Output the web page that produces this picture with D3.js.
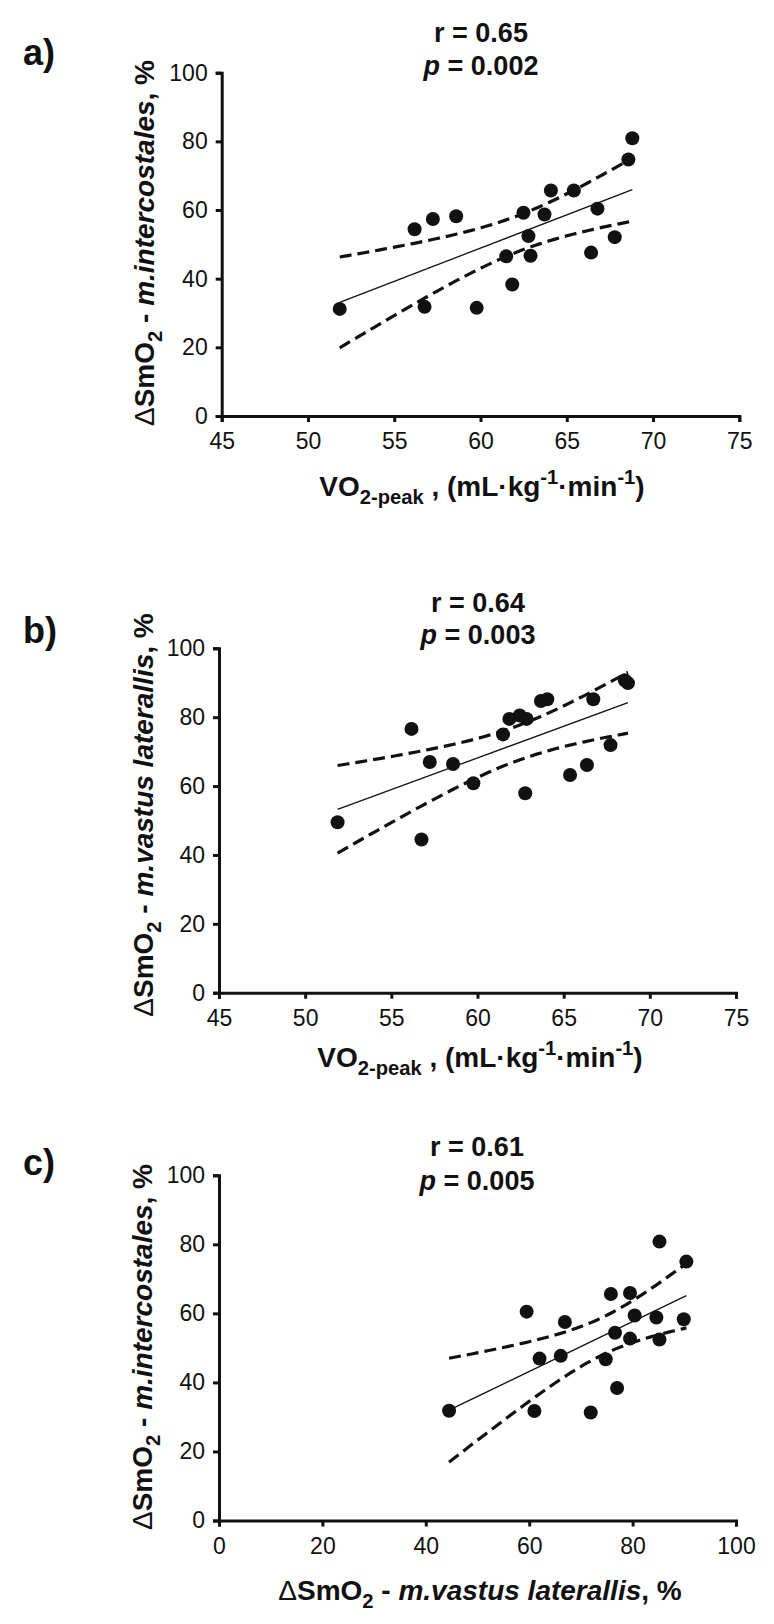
<!DOCTYPE html>
<html>
<head>
<meta charset="utf-8">
<script src="https://cdn.jsdelivr.net/npm/d3@7"></script>
<style>
  html, body { margin: 0; padding: 0; background: #fff; }
  svg { display: block; }
  text { font-family: "Liberation Sans", Arial, Helvetica, sans-serif; fill: #111; }
</style>
</head>
<body>
<svg id="chart" width="774" height="1624"></svg>
<script>
// ---------- data ----------
// Panel a: VO2-peak vs ΔSmO2 m.intercostales
const vo2A = [51.84, 56.18, 56.76, 57.24, 58.59, 59.78, 61.49, 61.84, 62.49, 62.78, 62.90, 63.71, 64.08, 65.41, 66.41, 66.78, 67.78, 68.57, 68.80];
const icA  = [31.2, 54.4, 31.8, 57.4, 58.2, 31.5, 46.5, 38.3, 59.2, 52.4, 46.7, 58.7, 65.7, 65.7, 47.6, 60.4, 52.1, 74.7, 80.9];
// Panel b: VO2-peak vs ΔSmO2 m.vastus laterallis
const vo2B = [51.88, 56.17, 56.75, 57.23, 58.58, 59.76, 61.48, 61.85, 62.45, 62.85, 62.77, 63.68, 64.05, 65.37, 66.35, 66.72, 67.72, 68.55, 68.73];
const vlB  = [49.5, 76.6, 44.5, 67.0, 66.4, 60.8, 75.0, 79.5, 80.5, 79.5, 57.9, 84.7, 85.2, 63.2, 66.1, 85.2, 71.9, 90.7, 89.9];
// Panel c: ΔSmO2 vastus laterallis vs ΔSmO2 intercostales
const vlC  = [44.5, 59.5, 61.0, 62.0, 66.1, 66.9, 71.9, 74.8, 75.8, 76.6, 77.0, 79.5, 79.5, 80.4, 84.6, 85.2, 85.2, 89.9, 90.4];
const icC  = [31.8, 60.5, 31.7, 46.9, 47.7, 57.5, 31.3, 46.7, 65.6, 54.4, 38.4, 65.9, 52.7, 59.4, 58.8, 52.4, 80.8, 58.3, 75.0];

const vo2Ticks = [45, 50, 55, 60, 65, 70, 75];
const pctTicks = [0, 20, 40, 60, 80, 100];
const panelLetters = ["a)", "b)", "c)"];
const rLabels = ["r = 0.65", "r = 0.64", "r = 0.61"];
const pLabels = [" = 0.002", " = 0.003", " = 0.005"];
const tCrit = 2.110; // t(0.975, df = 17)

// ---------- helpers ----------
function regression(xs, ys) {
  const n = xs.length;
  const mx = d3.mean(xs), my = d3.mean(ys);
  let sxx = 0, sxy = 0;
  xs.forEach((x, i) => { sxx += (x - mx) ** 2; sxy += (x - mx) * (ys[i] - my); });
  const b = sxy / sxx, a = my - b * mx;
  let ssr = 0;
  xs.forEach((x, i) => { ssr += (ys[i] - (a + b * x)) ** 2; });
  const s = Math.sqrt(ssr / (n - 2));
  return { a, b, mx, sxx, s, n };
}

function rich(sel, segs, size) {
  let shift = 0;
  segs.forEach(sg => {
    const target = sg.sub ? size * 0.3 : sg.sup ? -size * 0.42 : 0;
    const ts = sel.append("tspan").text(sg.t).attr("dy", target - shift);
    shift = target;
    if (sg.sub || sg.sup) ts.attr("font-size", size * 0.72);
    if (sg.italic) ts.attr("font-style", "italic");
    if (sg.normal) ts.attr("font-weight", "normal");
  });
}

const svg = d3.select("#chart");

const yTitleIC = [{t: "Δ", normal: true}, {t: "SmO"}, {t: "2", sub: true}, {t: " - "}, {t: "m.intercostales", italic: true}, {t: ", %"}];
const yTitleVL = [{t: "Δ", normal: true}, {t: "SmO"}, {t: "2", sub: true}, {t: " - "}, {t: "m.vastus laterallis", italic: true}, {t: ", %"}];
const xTitleVO2 = [{t: "VO"}, {t: "2-peak", sub: true}, {t: " , (mL·kg"}, {t: "-1", sup: true}, {t: "·min"}, {t: "-1", sup: true}, {t: ")"}];
const xTitleVL = [{t: "Δ", normal: true}, {t: "SmO"}, {t: "2", sub: true}, {t: " - "}, {t: "m.vastus laterallis", italic: true}, {t: ", %"}];

const panels = [
  { xs: vo2A, ys: icA, xDomain: [45, 75], xTicks: vo2Ticks,
    L: 221.7, R: 739.3, T: 72.7, B: 416,
    letterY: 65, statX: 481, rY: 42, pY: 75,
    yTitle: yTitleIC, yTitleX: 154, yTitleY: 243,
    xTitle: xTitleVO2, xTitleX: 482, xTitleY: 496 },
  { xs: vo2B, ys: vlB, xDomain: [45, 75], xTicks: vo2Ticks,
    L: 219, R: 736, T: 648.3, B: 992.7,
    letterY: 643, statX: 478, rY: 612, pY: 644,
    yTitle: yTitleVL, yTitleX: 153, yTitleY: 815,
    xTitle: xTitleVO2, xTitleX: 480, xTitleY: 1067 },
  { xs: vlC, ys: icC, xDomain: [0, 100], xTicks: pctTicks,
    L: 219, R: 736, T: 1175.3, B: 1520.5,
    letterY: 1175, statX: 477, rY: 1156, pY: 1190,
    yTitle: yTitleIC, yTitleX: 152, yTitleY: 1347,
    xTitle: xTitleVL, xTitleX: 480, xTitleY: 1600 }
];

panels.forEach((p, idx) => {
  const g = svg.append("g");
  const x = d3.scaleLinear().domain(p.xDomain).range([p.L, p.R]);
  const y = d3.scaleLinear().domain([0, 100]).range([p.B, p.T]);

  const xAxis = g.append("g").attr("transform", `translate(0,${p.B})`)
    .call(d3.axisBottom(x).tickValues(p.xTicks).tickSize(6).tickPadding(11).tickFormat(d3.format("d")));
  const yAxis = g.append("g").attr("transform", `translate(${p.L},0)`)
    .call(d3.axisLeft(y).tickValues(pctTicks).tickSize(6).tickPadding(8).tickFormat(d3.format("d")));
  [xAxis, yAxis].forEach(ax => {
    ax.select(".domain").attr("stroke", "#111").attr("stroke-width", 3);
    ax.selectAll(".tick line").attr("stroke", "#111").attr("stroke-width", 3);
    ax.selectAll(".tick text").attr("font-size", 23).attr("fill", "#111")
      .attr("font-family", "'Liberation Sans', Arial, sans-serif");
  });

  // regression + 95% CI
  const reg = regression(p.xs, p.ys);
  const x0 = d3.min(p.xs), x1 = d3.max(p.xs);
  const samples = d3.range(0, 61).map(i => x0 + (x1 - x0) * i / 60);
  const fit = xv => reg.a + reg.b * xv;
  const half = xv => tCrit * reg.s * Math.sqrt(1 / reg.n + (xv - reg.mx) ** 2 / reg.sxx);
  const line = d3.line().x(d => x(d[0])).y(d => y(d[1]));

  g.append("path").attr("d", line([[x0, fit(x0)], [x1, fit(x1)]]))
    .attr("fill", "none").attr("stroke", "#111").attr("stroke-width", 1.3);
  [1, -1].forEach(sgn => {
    g.append("path").attr("d", line(samples.map(v => [v, fit(v) + sgn * half(v)])))
      .attr("fill", "none").attr("stroke", "#111").attr("stroke-width", 3.2)
      .attr("stroke-dasharray", "12,6");
  });

  g.selectAll("circle.dot").data(p.xs.map((v, i) => [v, p.ys[i]])).enter()
    .append("circle").attr("class", "dot")
    .attr("cx", d => x(d[0])).attr("cy", d => y(d[1])).attr("r", 7)
    .attr("fill", "#111");

  // texts
  g.append("text").attr("x", 23).attr("y", p.letterY)
    .attr("font-size", 36).attr("font-weight", "bold").text(panelLetters[idx]);
  g.append("text").attr("x", p.statX).attr("y", p.rY).attr("text-anchor", "middle")
    .attr("font-size", 27).attr("font-weight", "bold").text(rLabels[idx]);
  const pt = g.append("text").attr("x", p.statX).attr("y", p.pY).attr("text-anchor", "middle")
    .attr("font-size", 27).attr("font-weight", "bold");
  pt.append("tspan").attr("font-style", "italic").text("p");
  pt.append("tspan").text(pLabels[idx]);

  const yt = g.append("text").attr("transform", `translate(${p.yTitleX},${p.yTitleY}) rotate(-90)`)
    .attr("text-anchor", "middle").attr("font-size", 28).attr("font-weight", "bold");
  rich(yt, p.yTitle, 28);

  const xt = g.append("text").attr("x", p.xTitleX).attr("y", p.xTitleY)
    .attr("text-anchor", "middle").attr("font-size", 28).attr("font-weight", "bold");
  rich(xt, p.xTitle, 28);
});
</script>
</body>
</html>
